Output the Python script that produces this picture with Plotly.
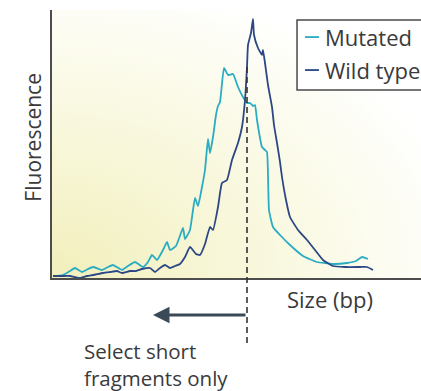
import base64
import plotly.graph_objects as go

# ---- data (arbitrary units) ----
mut_size = [1, 11, 18, 23, 30, 36, 41, 50, 56, 61, 70, 76, 83, 91, 96, 100, 105, 111, 115, 118,
            124, 131, 133, 138, 143, 146, 150, 153, 156, 158, 161, 164, 166, 168, 172, 176, 181, 186, 191, 195,
            198, 201, 203, 205, 210, 213, 215, 217, 221, 228, 238, 251, 265, 281, 295, 304, 310, 316]
mut_fluor = [2, 3, 7, 10, 6, 9, 11, 8, 11, 13, 8, 12, 16, 11, 16, 23, 18, 28, 36, 28,
             32, 50, 39, 48, 80, 72, 91, 108, 139, 125, 141, 163, 172, 176, 210, 203, 204, 191, 181, 175,
             175, 172, 173, 158, 131, 128, 126, 68, 51, 43, 33, 22, 16, 14, 15, 17, 21, 19]

wt_size = [1, 10, 18, 28, 35, 41, 51, 58, 65, 70, 78, 84, 90, 98, 103, 108, 113, 118, 123, 128,
           133, 138, 144, 148, 153, 158, 161, 166, 170, 175, 180, 186, 190, 193, 195, 196, 199, 201, 202, 206,
           210, 211, 213, 216, 220, 222, 225, 228, 230, 234, 238, 246, 255, 263, 271, 281, 293, 308, 315, 321]
wt_fluor = [2, 2, 2, 0, 2, 3, 5, 6, 7, 5, 7, 7, 9, 10, 6, 10, 13, 10, 12, 14,
            21, 31, 24, 23, 34, 51, 48, 71, 95, 98, 118, 135, 151, 178, 211, 233, 245, 259, 243, 230,
            223, 228, 215, 193, 171, 153, 135, 116, 101, 78, 61, 48, 38, 28, 18, 12, 11, 11, 11, 8]

series_names = ["Mutated", "Wild type"]
series_colors = ["#2aacc2", "#2b4785"]
cutoff_size = 195

X_MAX = 369
Y_MAX = 268

TXT = "#3a3a3a"
FONT = "Open Sans"

fig = go.Figure()
fig.add_trace(go.Scatter(x=mut_size, y=mut_fluor, mode="lines", name=series_names[0],
                         line=dict(color=series_colors[0], width=1.8, shape="spline", smoothing=0.4),
                         showlegend=False))
fig.add_trace(go.Scatter(x=wt_size, y=wt_fluor, mode="lines", name=series_names[1],
                         line=dict(color=series_colors[1], width=1.8, shape="spline", smoothing=0.4),
                         showlegend=False))

# gradient background as SVG image
svg = ('<svg xmlns="http://www.w3.org/2000/svg" width="369" height="268">'
       '<defs><radialGradient id="g" cx="0" cy="1" r="1.15">'
       '<stop offset="0" stop-color="#f2efbb"/>'
       '<stop offset="0.45" stop-color="#f8f7da"/>'
       '<stop offset="1" stop-color="#ffffff"/>'
       '</radialGradient></defs>'
       '<rect width="369" height="268" fill="url(#g)"/></svg>')
src = "data:image/svg+xml;base64," + base64.b64encode(svg.encode()).decode()

shapes = [
    # dashed cutoff line
    dict(type="line", xref="x", yref="paper", x0=cutoff_size, x1=cutoff_size,
         y0=-0.2425, y1=0.795, line=dict(color="#333333", width=1.6, dash="6px,4px")),
    # legend box
    dict(type="rect", xref="paper", yref="paper", x0=0.664, x1=1.02, y0=0.7015, y1=0.9627,
         line=dict(color="#4a4a4a", width=1.5), fillcolor="white"),
    dict(type="line", xref="paper", yref="paper", x0=0.6856, x1=0.7236, y0=0.899, y1=0.899,
         line=dict(color=series_colors[0], width=1.8)),
    dict(type="line", xref="paper", yref="paper", x0=0.6856, x1=0.7236, y0=0.776, y1=0.776,
         line=dict(color=series_colors[1], width=1.8)),
]

annotations = [
    dict(text="Fluorescence", xref="paper", yref="paper", x=-0.054, y=0.524, textangle=-90,
         showarrow=False, font=dict(family=FONT, size=21, color=TXT), xanchor="center", yanchor="middle"),
    dict(text="Size (bp)", xref="paper", yref="paper", x=0.7534, y=-0.0784,
         showarrow=False, font=dict(family=FONT, size=22, color=TXT), xanchor="center", yanchor="middle"),
    dict(text="Select short<br>fragments only", xref="paper", yref="paper", x=0.081, y=-0.3228,
         showarrow=False, font=dict(family=FONT, size=20.5, color=TXT), xanchor="left", yanchor="middle",
         align="left"),
    dict(text=series_names[0], xref="paper", yref="paper", x=0.7344, y=0.899,
         showarrow=False, font=dict(family=FONT, size=22, color=TXT), xanchor="left", yanchor="middle"),
    dict(text=series_names[1], xref="paper", yref="paper", x=0.7344, y=0.776,
         showarrow=False, font=dict(family=FONT, size=22, color=TXT), xanchor="left", yanchor="middle"),
    # arrow
    dict(text="", xref="x", yref="paper", x=101, y=-0.138, ax=94, ay=0,
         showarrow=True, arrowhead=2, arrowsize=1.1, arrowwidth=3, arrowcolor="#3b4a56"),
]

fig.update_layout(
    width=421, height=391,
    margin=dict(l=52, r=0, t=10, b=113),
    paper_bgcolor="white",
    plot_bgcolor="rgba(0,0,0,0)",
    xaxis=dict(range=[0, X_MAX], showline=True, linecolor="#4d4d4d", linewidth=1.5,
               showgrid=False, zeroline=False, showticklabels=False, ticks=""),
    yaxis=dict(range=[0, Y_MAX], showline=True, linecolor="#4d4d4d", linewidth=1.5,
               showgrid=False, zeroline=False, showticklabels=False, ticks=""),
    images=[dict(source=src, xref="paper", yref="paper", x=0, y=1, sizex=1, sizey=1,
                 sizing="stretch", layer="below", xanchor="left", yanchor="top")],
    shapes=shapes,
    annotations=annotations,
    showlegend=False,
)

fig.write_html(
    "out.html",
    config={"displayModeBar": False},
    post_script="document.body.style.margin='0';document.body.style.overflow='hidden';",
)
